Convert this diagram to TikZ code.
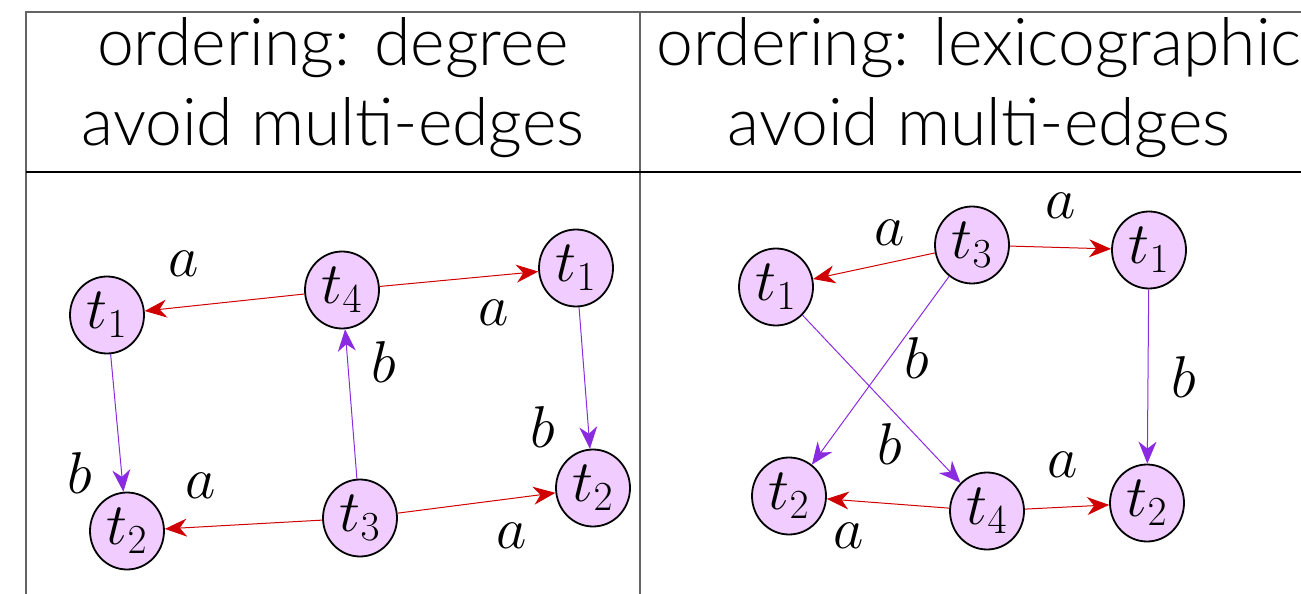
\RequirePackage{fix-cm}
\documentclass[tikz,border=0pt]{standalone}
\usepackage{fontspec}
\setmainfont{Lato Light}
\usetikzlibrary{arrows.meta,shapes.geometric}
\definecolor{nodefill}{RGB}{240,204,255}
\definecolor{ered}{RGB}{208,0,0}
\definecolor{epurple}{RGB}{138,43,226}
\definecolor{rulegray}{RGB}{100,100,100}
\tikzset{
  st/.style={draw=black, line width=1.8pt, fill=nodefill, ellipse, inner sep=0pt,
    minimum width=74pt, minimum height=77pt, font=\fontsize{59}{60}\selectfont},
  lbl/.style={inner sep=0pt, font=\fontsize{59}{60}\selectfont},
  hdr/.style={inner sep=0pt, anchor=base, font=\fontsize{66}{70}\selectfont},
  ra/.style={draw=ered, line width=1pt, -{Stealth[length=22pt,width=18pt,inset=7pt]}},
  pa/.style={draw=epurple, line width=1pt, -{Stealth[length=22pt,width=18pt,inset=7pt]}},
  grayrule/.style={draw=rulegray, line width=2pt},
  blackrule/.style={draw=black, line width=1.5pt}
}
\begin{document}
\begin{tikzpicture}[x=1pt,y=-1pt]
\useasboundingbox (0,0) rectangle (1301,594);
% table rules
\coordinate (tl) at (26,12);
\coordinate (tr) at (1301,12);
\coordinate (bl) at (26,594);
\coordinate (mt) at (640,12);
\coordinate (mb) at (640,594);
\coordinate (hl) at (26,172);
\coordinate (hr) at (1301,172);
\draw[grayrule] (tr) -- (tl) -- (bl);
\draw[grayrule] (mt) -- (mb);
\draw[blackrule] (hl) -- (hr);
% headers
\node[hdr] (h1a) at (333,66) {ordering: degree};
\node[hdr] (h1b) at (333,145) {avoid multi-edges};
\node[hdr] (h2a) at (979,66) {ordering: lexicographic};
\node[hdr] (h2b) at (979,145) {avoid multi-edges};
% left graph
\node[st] (L1) at (107,315) {$t_1$};
\node[st] (L4) at (342,290) {$t_4$};
\node[st] (L1r) at (576,268) {$t_1$};
\node[st] (L2) at (127,531) {$t_2$};
\node[st] (L3) at (360,518) {$t_3$};
\node[st] (L2r) at (593,488) {$t_2$};
\draw[ra] (L4) -- (L1);
\draw[ra] (L4) -- (L1r);
\draw[pa] (L1) -- (L2);
\draw[pa] (L3) -- (L4);
\draw[pa] (L1r) -- (L2r);
\draw[ra] (L3) -- (L2);
\draw[ra] (L3) -- (L2r);
\node[lbl] (la1) at (184,264) {$a$};
\node[lbl] (la2) at (494,313) {$a$};
\node[lbl] (lb1) at (384,362) {$b$};
\node[lbl] (lb2) at (543,427) {$b$};
\node[lbl] (lb3) at (80,473) {$b$};
\node[lbl] (la3) at (201,486) {$a$};
\node[lbl] (la4) at (512,536) {$a$};
% right graph
\node[st] (R3) at (972,245) {$t_3$};
\node[st] (R1) at (776,287) {$t_1$};
\node[st] (R1r) at (1149,250) {$t_1$};
\node[st] (R2) at (789,496) {$t_2$};
\node[st] (R4) at (987,511) {$t_4$};
\node[st] (R2r) at (1147,503) {$t_2$};
\draw[ra] (R3) -- (R1);
\draw[ra] (R3) -- (R1r);
\draw[pa] (R3) -- (R2);
\draw[pa] (R1) -- (R4);
\draw[pa] (R1r) -- (R2r);
\draw[ra] (R4) -- (R2);
\draw[ra] (R4) -- (R2r);
\node[lbl] (ra1) at (890,233) {$a$};
\node[lbl] (ra2) at (1061,206) {$a$};
\node[lbl] (rb1) at (917,358) {$b$};
\node[lbl] (rb2) at (1184,377) {$b$};
\node[lbl] (rb3) at (890,444) {$b$};
\node[lbl] (ra3) at (1063,465) {$a$};
\node[lbl] (ra4) at (849,536) {$a$};
\end{tikzpicture}
\end{document}
